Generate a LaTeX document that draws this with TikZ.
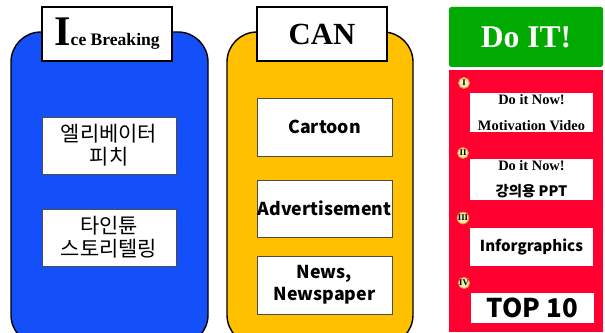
\documentclass[tikz,border=0pt]{standalone}
\usepackage{fontspec}
\setmainfont{Liberation Serif}
\newfontfamily\kr{Noto Sans CJK KR}
\newcommand{\pxu}{0.02cm}
\definecolor{iceblue}{RGB}{20,80,250}
\definecolor{canorange}{RGB}{255,192,0}
\definecolor{dogreen}{RGB}{0,170,0}
\definecolor{dored}{RGB}{255,0,48}
\definecolor{badgefill}{RGB}{253,233,184}
\definecolor{badgeline}{RGB}{230,150,40}
\begin{document}
\begin{tikzpicture}[x=\pxu,y=-\pxu,
  panel/.style={draw=black,line width=0.8pt,rounded corners=0.6cm,inner sep=0pt},
  title/.style={draw=black,fill=white,line width=0.8pt,inner sep=0pt,
    minimum width=130*\pxu,minimum height=54*\pxu},
  item/.style={draw=gray!60!black,fill=white,line width=0.4pt,inner sep=0pt,
    align=center,font=\kr},
  todo/.style={fill=white,inner sep=0pt,align=center,minimum width=123*\pxu},
  badge/.style={circle,draw=badgeline,fill=badgefill,line width=0.5pt,inner sep=0pt,
    minimum size=11*\pxu,font=\bfseries\fontsize{5}{5}\selectfont}]
  \useasboundingbox (0,0) rectangle (605,333);
  \clip (0,0) rectangle (605,333);
  \node[panel,fill=iceblue,minimum width=197*\pxu,minimum height=313*\pxu] (ice) at (109.5,188.5) {};
  \node[panel,fill=canorange,minimum width=186*\pxu,minimum height=313*\pxu] (can) at (320,188.5) {};
  \node[title] (icetitle) at (107,34) {\bfseries\fontsize{24}{24}\selectfont I\fontsize{10}{10}\selectfont ce Breaking};
  \node[title] (cantitle) at (322,34) {\bfseries\fontsize{17.5}{17.5}\selectfont CAN};
  \node[item,minimum width=134*\pxu,minimum height=57*\pxu,
    font=\kr\fontsize{11.9}{13}\selectfont] (pitch) at (109,145.5) {엘리베이터\\피치};
  \node[item,minimum width=134*\pxu,minimum height=57*\pxu,
    font=\kr\fontsize{11.9}{13}\selectfont] (story) at (109,237.5) {타인튠\\스토리텔링};
  \node[item,minimum width=135*\pxu,minimum height=58*\pxu,
    font=\kr\bfseries\fontsize{10.1}{12.5}\selectfont] (cartoon) at (324.5,127) {Cartoon};
  \node[item,minimum width=135*\pxu,minimum height=57*\pxu,
    font=\kr\bfseries\fontsize{10.1}{12.5}\selectfont] (advert) at (324.5,208.5) {Advertisement};
  \node[item,minimum width=135*\pxu,minimum height=58*\pxu,
    font=\kr\bfseries\fontsize{10.1}{12.5}\selectfont] (news) at (324.5,285) {News,\\Newspaper};
  \node[fill=dogreen,rounded corners=1pt,minimum width=154*\pxu,minimum height=60*\pxu,
    text=white,font=\bfseries\fontsize{18}{18}\selectfont] (doit) at (526,37) {Do IT!};
  \node[fill=dored,minimum width=154*\pxu,minimum height=262*\pxu] (dolist) at (526,201) {};
  \node[todo,minimum height=39*\pxu,font=\bfseries\fontsize{8.2}{14.8}\selectfont] (video) at (531.5,112.5)
    {Do it Now!\\Motivation Video};
  \node[todo,minimum height=41*\pxu,font=\bfseries\fontsize{8.2}{14.8}\selectfont] (ppt) at (531.5,179.5)
    {Do it Now!\\{\kr 강의용 PPT}};
  \node[todo,minimum height=38*\pxu,font=\kr\bfseries\fontsize{8.6}{11}\selectfont] (info) at (531.5,247)
    {Inforgraphics};
  \node[todo,minimum height=30*\pxu,font=\kr\bfseries\fontsize{14.7}{16}\selectfont] (top) at (532.5,308)
    {TOP 10};
  \node[badge] (one) at (464,83) {I};
  \node[badge] (two) at (463,153) {II};
  \node[badge] (three) at (463,218) {III};
  \node[badge] (four) at (464,283) {IV};
\end{tikzpicture}
\end{document}
